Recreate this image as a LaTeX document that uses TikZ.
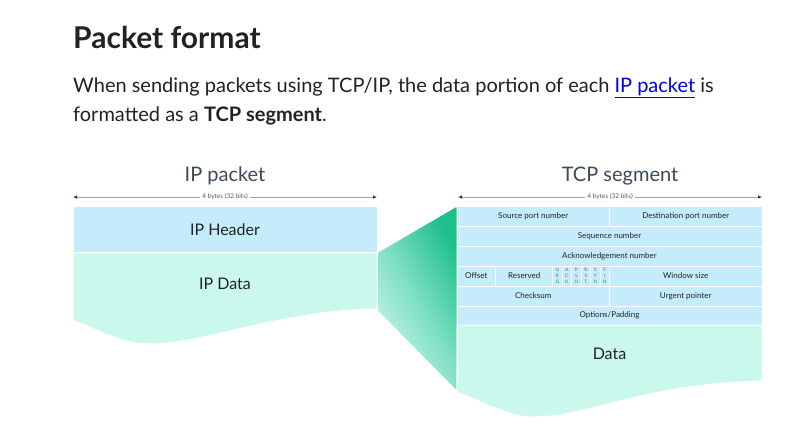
\documentclass[tikz,border=0pt]{standalone}
\usepackage{fontspec}
\setmainfont{Lato}
\usetikzlibrary{arrows.meta}
\definecolor{hdr}{HTML}{C5ECFB}
\definecolor{mint}{HTML}{CAF8EC}
\definecolor{tealg}{HTML}{1FBF8D}
\definecolor{txt}{HTML}{222222}
\definecolor{ttl}{HTML}{3B4A58}
\definecolor{linkc}{HTML}{0000EE}
\definecolor{arrline}{HTML}{97A3B6}
\definecolor{arrtip}{HTML}{1E3566}
\begin{document}
\begin{tikzpicture}[x=1pt,y=-1pt,
  cell/.style={draw=white, line width=1pt, fill=hdr, inner sep=0pt, text=txt,
    font=\fontsize{8}{9}\selectfont},
  flag/.style={inner sep=0pt, text=black!60, align=center,
    font=\fontsize{4.6}{6}\selectfont},
  wtitle/.style={anchor=base, text=ttl, font=\fontsize{20}{24}\selectfont},
  widthlbl/.style={fill=white, inner sep=2pt, text=black!65, font=\fontsize{6.5}{8}\selectfont},
  widtharr/.style={arrline, line width=0.9pt,
    {Latex[length=4pt,width=3.6pt,color=arrtip]}-{Latex[length=4pt,width=3.6pt,color=arrtip]}},
  big/.style={inner sep=0pt, text=txt, font=\fontsize{16}{19}\selectfont}
]
\useasboundingbox (0,0) rectangle (805,431);
\fill[white] (0,0) rectangle (805,431);

% heading and paragraph
\node[anchor=base west, inner sep=0pt, text=txt, font=\bfseries\fontsize{30}{36}\selectfont] (title) at (73,48) {Packet format};
\node[anchor=base west, inner sep=0pt, text=txt, font=\fontsize{20}{24}\selectfont] (p1) at (73,92)
  {When sending packets using TCP/IP, the data portion of each \textcolor{linkc}{\underline{IP packet}} is};
\node[anchor=base west, inner sep=0pt, text=txt, font=\fontsize{20}{24}\selectfont] (p2) at (73,121)
  {formatted as a \textbf{TCP segment}.};

% titles
\node[wtitle] (ipt) at (225,181) {IP packet};
\node[wtitle] (tcpt) at (620,181) {TCP segment};

% width arrows
\coordinate (ipl) at (73,197);
\coordinate (ipr) at (377,197);
\coordinate (tcl) at (458,197);
\coordinate (tcr) at (762,197);
\draw[widtharr] (ipl) -- (ipr);
\draw[widtharr] (tcl) -- (tcr);
\node[widthlbl] (ipw) at (225,197) {4 bytes (32 bits)};
\node[widthlbl] (tcw) at (610,197) {4 bytes (32 bits)};

% funnel
\shade[shading=axis, top color=tealg, bottom color=mint, middle color=tealg!45!mint, shading angle=-60]
  (377.5,253) -- (456.5,207) -- (456.5,390) -- (377.5,310) -- cycle;

% IP packet
\node[cell, minimum width=304pt, minimum height=46pt] (iph) at (225,229.5) {};
\node[big] at (iph.center) {IP Header};
\filldraw[fill=mint, draw=white, line width=1pt] (73,252.5) -- (377,252.5) -- (377,309)
  .. controls (280,310) and (205,344) .. (150,344)
  .. controls (125,344) and (105,334) .. (73,320) -- cycle;
\node[big] (ipd) at (225,284) {IP Data};

% TCP segment rows
\node[cell, minimum width=152.5pt, minimum height=20pt] (src) at (533.25,216) {Source port number};
\node[cell, minimum width=152.5pt, minimum height=20pt] (dst) at (685.75,216) {Destination port number};
\node[cell, minimum width=305pt, minimum height=20pt] (seq) at (609.5,236) {Sequence number};
\node[cell, minimum width=305pt, minimum height=20pt] (ack) at (609.5,256) {Acknowledgement number};
\node[cell, minimum width=38.7pt, minimum height=20pt] (off) at (476.35,276) {Offset};
\node[cell, minimum width=57pt, minimum height=20pt] (res) at (524.2,276) {Reserved};
\node[cell, minimum width=9.47pt, minimum height=20pt] (f1) at (557.43,276) {};
\node[cell, minimum width=9.47pt, minimum height=20pt] (f2) at (566.9,276) {};
\node[cell, minimum width=9.47pt, minimum height=20pt] (f3) at (576.37,276) {};
\node[cell, minimum width=9.47pt, minimum height=20pt] (f4) at (585.84,276) {};
\node[cell, minimum width=9.47pt, minimum height=20pt] (f5) at (595.31,276) {};
\node[cell, minimum width=9.47pt, minimum height=20pt] (f6) at (604.78,276) {};
\node[flag] at (f1.center) {U\\R\\G};
\node[flag] at (f2.center) {A\\C\\K};
\node[flag] at (f3.center) {P\\S\\H};
\node[flag] at (f4.center) {R\\S\\T};
\node[flag] at (f5.center) {S\\Y\\N};
\node[flag] at (f6.center) {F\\I\\N};
\node[cell, minimum width=152.5pt, minimum height=20pt] (win) at (685.75,276) {Window size};
\node[cell, minimum width=152.5pt, minimum height=20pt] (chk) at (533.25,296) {Checksum};
\node[cell, minimum width=152.5pt, minimum height=20pt] (urg) at (685.75,296) {Urgent pointer};
\node[cell, minimum width=305pt, minimum height=19pt] (opt) at (609.5,315.5) {Options/Padding};
\filldraw[fill=mint, draw=white, line width=1pt] (457,325) -- (762,325) -- (762,381)
  .. controls (640,384) and (590,417) .. (533,417)
  .. controls (510,417) and (490,405) .. (457,392) -- cycle;
\node[big] (tcd) at (609.5,354) {Data};
\end{tikzpicture}
\end{document}
